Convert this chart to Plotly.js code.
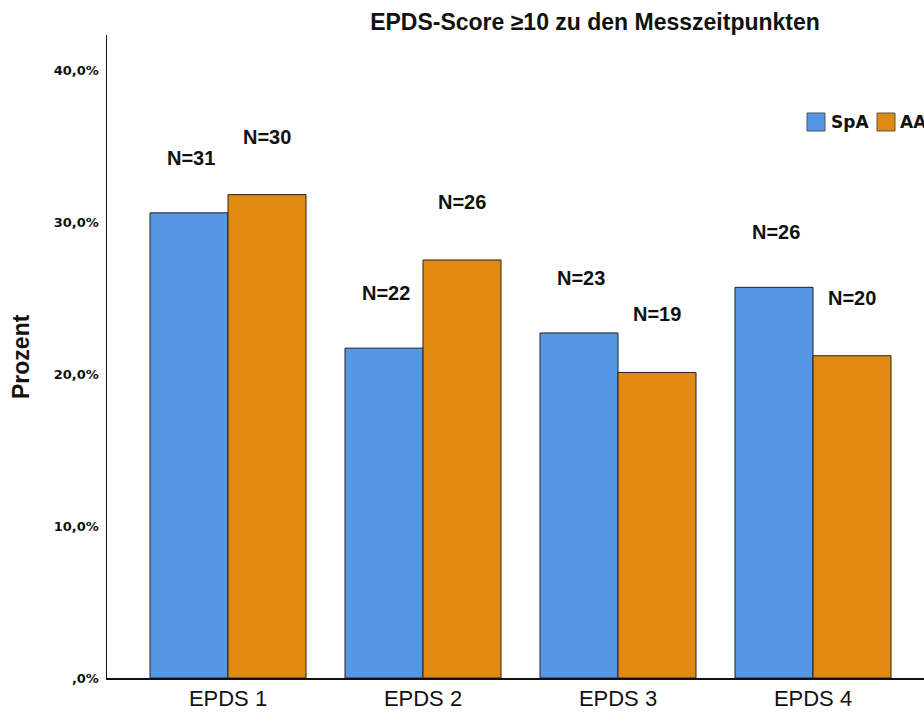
<!DOCTYPE html>
<html>
<head>
<meta charset="utf-8">
<script src="https://cdn.plot.ly/plotly-3.0.1.min.js"></script>
<style>html,body{margin:0;padding:0;background:#fff;}#chart{width:924px;height:713px;}</style>
</head>
<body>
<div id="chart"></div>
<script>
const categories = ["EPDS 1", "EPDS 2", "EPDS 3", "EPDS 4"];
const seriesNames = ["SpA", "AA"];
const spaValues = [30.6, 21.7, 22.7, 25.7];
const aaValues = [31.8, 27.5, 20.1, 21.2];
const spaN = [31, 22, 23, 26];
const aaN = [30, 26, 19, 20];
const yTickVals = [0, 10, 20, 30, 40];
const yTickText = [",0%", "10,0%", "20,0%", "30,0%", "40,0%"];

const W = 924, H = 713;
const mL = 107, mR = 0, mT = 35, mB = 35;
const plotW = W - mL - mR;
const plotH = H - mT - mB;
const px2paperX = p => (p - mL) / plotW;
const py2paperY = p => 1 - (p - mT) / plotH;

const colors = ["#5597E6", "#E08A14"];
const lineCol = "#222";

const traces = [
  {type: "bar", name: seriesNames[0], x: categories, y: spaValues,
   marker: {color: colors[0], line: {color: lineCol, width: 1}}, hoverinfo: "none"},
  {type: "bar", name: seriesNames[1], x: categories, y: aaValues,
   marker: {color: colors[1], line: {color: lineCol, width: 1}}, hoverinfo: "none"}
];

const annotations = [];
const labFont = {family: "Liberation Sans, Arial, sans-serif", size: 20, color: "#111"};
categories.forEach((c, i) => {
  annotations.push({x: c, y: spaValues[i], xref: "x", yref: "y", text: "<b>N=" + spaN[i] + "</b>",
    showarrow: false, xshift: -37, yshift: 55, yanchor: "middle", font: labFont});
  annotations.push({x: c, y: aaValues[i], xref: "x", yref: "y", text: "<b>N=" + aaN[i] + "</b>",
    showarrow: false, xshift: 39, yshift: 58, yanchor: "middle", font: labFont});
});
// y-axis title
annotations.push({xref: "paper", yref: "paper", x: px2paperX(21), y: py2paperY(357),
  text: "<b>Prozent</b>", textangle: -90, showarrow: false, xanchor: "center", yanchor: "middle",
  font: {family: "Liberation Sans, Arial, sans-serif", size: 23, color: "#111"}});

// legend (drawn manually so it runs off the right edge like the reference)
const legY0 = 113, legY1 = 131;
const shapes = [];
const legBoxes = [[807, 825], [877, 895]];
const legTextX = [829, 898];
seriesNames.forEach((n, i) => {
  shapes.push({type: "rect", xref: "paper", yref: "paper",
    x0: px2paperX(legBoxes[i][0]), x1: px2paperX(legBoxes[i][1]),
    y0: py2paperY(legY1), y1: py2paperY(legY0),
    fillcolor: colors[i], line: {color: "#555", width: 1}});
  annotations.push({xref: "paper", yref: "paper", x: px2paperX(legTextX[i]), y: py2paperY((legY0 + legY1) / 2),
    text: "<b>" + n + "</b>", showarrow: false, xanchor: "left", yanchor: "middle",
    font: {family: "DejaVu Sans, Verdana, sans-serif", size: 17, color: "#111"}});
});

const layout = {
  width: W, height: H,
  margin: {l: mL, r: mR, t: mT, b: mB, pad: 0},
  paper_bgcolor: "#fff", plot_bgcolor: "#fff",
  showlegend: false,
  barmode: "group", bargap: 0.2, bargroupgap: 0,
  title: {text: "<b>EPDS-Score ≥10 zu den Messzeitpunkten</b>", x: 595 / W, xref: "container",
    xanchor: "center", y: 1 - 22 / H, yref: "container", yanchor: "middle",
    font: {family: "Liberation Sans, Arial, sans-serif", size: 23, color: "#111"}},
  xaxis: {type: "category", range: [(mL - 228) / 195, (W - 228) / 195],
    showline: true, linecolor: "#111", linewidth: 1.5, ticks: "", showgrid: false, zeroline: false,
    ticklabelstandoff: 0,
    tickfont: {family: "Liberation Sans, Arial, sans-serif", size: 22, color: "#111"}},
  yaxis: {range: [0, 42.3], showline: true, linecolor: "#111", linewidth: 1.5, ticks: "",
    showgrid: false, zeroline: false, tickvals: yTickVals, ticktext: yTickText,
    ticklabelstandoff: 4,
    tickfont: {family: "DejaVu Sans, Verdana, sans-serif", size: 13, color: "#111", weight: "bold"}},
  annotations: annotations,
  shapes: shapes
};

Plotly.newPlot("chart", traces, layout, {displayModeBar: false, staticPlot: true});
</script>
</body>
</html>
